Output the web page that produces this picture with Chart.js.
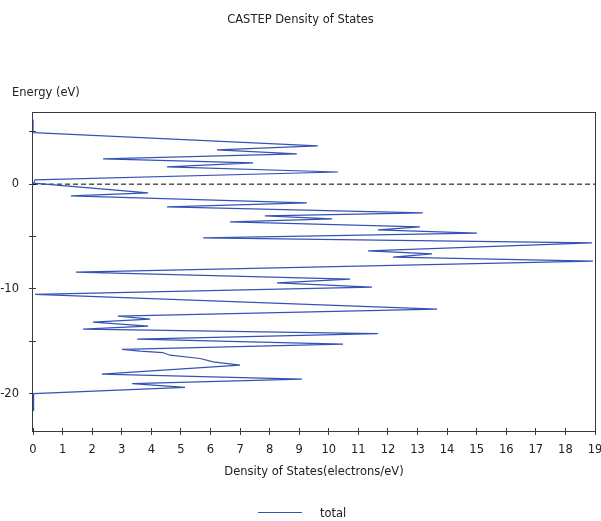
<!DOCTYPE html>
<html>
<head>
<meta charset="utf-8">
<script src="https://cdn.jsdelivr.net/npm/chart.js@4.4.0/dist/chart.umd.min.js"></script>
<style>
  html, body { margin: 0; padding: 0; background: #fff; }
  #wrap { width: 601px; height: 521px; }
</style>
</head>
<body>
<div id="wrap"><canvas id="dosChart"></canvas></div>
<script>
// turning points of the total DOS curve (energy ascending)
const energy = [-21.6, -20.0, -19.4, -19.04, -18.63, -18.15, -17.29, -16.98, -16.65, -16.34,
  -16.08, -15.95, -15.79, -15.28, -14.8, -14.28, -13.85, -13.56, -13.18, -12.89,
  -12.6, -11.93, -10.53, -9.83, -9.44, -9.06, -8.4, -7.34, -6.96, -6.67,
  -6.38, -5.62, -5.14, -4.67, -4.37, -4.09, -3.61, -3.32, -3.03, -2.74,
  -2.17, -1.79, -1.12, -0.83, 0.1, 0.41, 1.16, 1.65, 2.03, 2.42,
  2.9, 3.28, 3.66, 4.91, 6.15];
const dos = [0, 0.02, 5.14, 3.35, 9.09, 2.33, 7.0, 6.09, 5.65, 4.63,
  4.39, 3.62, 3.01, 10.48, 3.52, 11.66, 1.69, 3.89, 2.03, 3.96,
  2.87, 13.66, 0.07, 11.46, 8.25, 10.72, 1.45, 18.93, 12.17, 13.49,
  11.33, 18.9, 5.75, 15.01, 11.66, 13.08, 6.66, 10.11, 7.84, 13.18,
  4.53, 9.26, 1.28, 3.89, 0.02, 0.07, 10.31, 4.53, 7.44, 2.37,
  8.92, 6.22, 9.63, 0.02, 0];

const fermiLevel = 0;
const xTickValues = [0, 1, 2, 3, 4, 5, 6, 7, 8, 9, 10, 11, 12, 13, 14, 15, 16, 17, 18, 19];
const yTickValues = [-20, -15, -10, -5, 0, 5];
const yLabelled = [-20, -10, 0];

const lineColor = '#3553b5';
const textColor = '#222';
const fontFamily = '"DejaVu Sans", Verdana, sans-serif';

// frame, crossing tick marks, title, y caption and legend
const decorations = {
  id: 'decorations',
  beforeDatasetsDraw(chart) {
    const { ctx, chartArea: a, scales: { x, y } } = chart;
    ctx.save();
    ctx.strokeStyle = '#3a3a3a';
    ctx.lineWidth = 1;
    ctx.strokeRect(a.left - 0.5, a.top + 0.5, a.right - a.left + 1, a.bottom - a.top - 1);
    ctx.beginPath();
    xTickValues.forEach(v => {
      const px = Math.round(x.getPixelForValue(v) - 0.5) + 0.5;
      ctx.moveTo(px, a.bottom - 4);
      ctx.lineTo(px, a.bottom + 3);
    });
    yTickValues.forEach(v => {
      const py = Math.round(y.getPixelForValue(v) - 0.5) + 0.5;
      ctx.moveTo(a.left - 4, py);
      ctx.lineTo(a.left + 3, py);
    });
    ctx.stroke();
    ctx.restore();
  },
  afterDraw(chart) {
    const { ctx } = chart;
    ctx.save();
    ctx.font = '11.5px ' + fontFamily;
    ctx.fillStyle = textColor;
    ctx.textBaseline = 'alphabetic';
    ctx.textAlign = 'center';
    ctx.fillText('CASTEP Density of States', 300.5, 22.5);
    ctx.textAlign = 'left';
    ctx.fillText('Energy (eV)', 12, 96);
    // legend
    ctx.strokeStyle = lineColor;
    ctx.lineWidth = 1.2;
    ctx.beginPath();
    ctx.moveTo(258, 512.5);
    ctx.lineTo(302, 512.5);
    ctx.stroke();
    ctx.fillText('total', 320, 517);
    ctx.restore();
  }
};

const ctx = document.getElementById('dosChart').getContext('2d');
new Chart(ctx, {
  type: 'scatter',
  data: {
    datasets: [{
      label: 'total',
      data: energy.map((e, i) => ({ x: dos[i], y: e })),
      showLine: true,
      borderColor: lineColor,
      borderWidth: 1.25,
      pointRadius: 0,
      tension: 0
    }, {
      label: 'Fermi level',
      data: [{ x: xTickValues[0], y: fermiLevel }, { x: xTickValues[xTickValues.length - 1], y: fermiLevel }],
      showLine: true,
      borderColor: '#000',
      borderWidth: 1,
      borderDash: [5, 3],
      pointRadius: 0
    }]
  },
  options: {
    responsive: true,
    maintainAspectRatio: false,
    animation: false,
    events: [],
    layout: { padding: { left: 0, top: 112, right: 6, bottom: 0 } },
    plugins: {
      legend: { display: false },
      title: { display: false },
      tooltip: { enabled: false }
    },
    scales: {
      x: {
        type: 'linear',
        position: 'bottom',
        min: 0,
        max: 19,
        grid: { display: false },
        border: { display: false },
        afterBuildTicks: s => { s.ticks = xTickValues.map(v => ({ value: v })); },
        afterFit: s => { s.height = 89; s.paddingLeft = 0; s.paddingRight = 0; },
        ticks: {
          padding: 3,
          color: textColor,
          font: { family: fontFamily, size: 11.5 },
          maxRotation: 0,
          autoSkip: false
        },
        title: {
          display: true,
          text: 'Density of States(electrons/eV)',
          color: textColor,
          font: { family: fontFamily, size: 11.5 },
          padding: { top: 0, bottom: 42 }
        }
      },
      y: {
        type: 'linear',
        position: 'left',
        min: -23.67,
        max: 6.89,
        grid: { display: false },
        border: { display: false },
        afterBuildTicks: s => { s.ticks = yTickValues.map(v => ({ value: v })); },
        afterFit: s => { s.width = 33; s.paddingTop = 0; s.paddingBottom = 0; },
        ticks: {
          padding: 6,
          color: textColor,
          font: { family: fontFamily, size: 11.5 },
          autoSkip: false,
          callback: v => (yLabelled.includes(v) ? String(v) : '')
        }
      }
    }
  },
  plugins: [decorations]
});
</script>
</body>
</html>
